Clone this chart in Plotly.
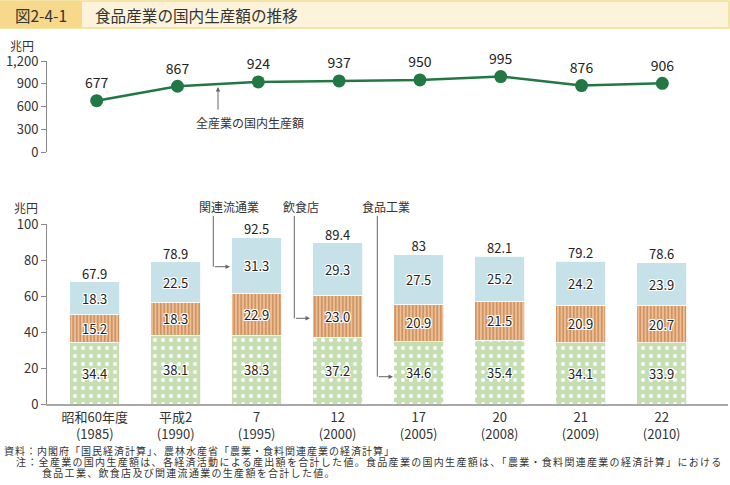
import plotly.graph_objects as go

# ---------------- data ----------------
categories = ["昭和60年度<br>(1985)", "平成2<br>(1990)", "7<br>(1995)", "12<br>(2000)",
              "17<br>(2005)", "20<br>(2008)", "21<br>(2009)", "22<br>(2010)"]
all_industry = [677, 867, 924, 937, 950, 995, 876, 906]
food_industry = [34.4, 38.1, 38.3, 37.2, 34.6, 35.4, 34.1, 33.9]      # 食品工業
restaurants = [15.2, 18.3, 22.9, 23.0, 20.9, 21.5, 20.9, 20.7]         # 飲食店
distribution = [18.3, 22.5, 31.3, 29.3, 27.5, 25.2, 24.2, 23.9]        # 関連流通業
totals = [67.9, 78.9, 92.5, 89.4, 83, 82.1, 79.2, 78.6]
top_ticks = [0, 300, 600, 900, 1200]
bottom_ticks = [0, 20, 40, 60, 80, 100]

W, H = 730, 485
FONT = "Noto Sans CJK JP"
X = lambda px: px / W
Y = lambda py: 1 - py / H

fig = go.Figure()

# top: line chart
fig.add_trace(go.Scatter(
    x=categories, y=all_industry, mode="lines+markers+text",
    text=[str(v) for v in all_industry], textposition="top center",
    textfont=dict(size=14, color="#222"),
    line=dict(color="#217844", width=2.5),
    marker=dict(size=13, color="#217844"),
    cliponaxis=False, xaxis="x", yaxis="y", showlegend=False, hoverinfo="skip"))

shadow = "1px 1px 0 #fff, -1px -1px 0 #fff, 1px -1px 0 #fff, -1px 1px 0 #fff, 0 1px 0 #fff, 0 -1px 0 #fff, 1px 0 0 #fff, -1px 0 0 #fff"

def bar(vals, color, pattern):
    return go.Bar(
        x=categories, y=vals, xaxis="x2", yaxis="y2",
        marker=dict(color=color, line=dict(color="white", width=0.8), pattern=pattern),
        text=[f"{v:.1f}" for v in vals], textposition="inside", insidetextanchor="middle",
        textangle=0, constraintext="none",
        textfont=dict(size=13, color="#222", shadow=shadow),
        showlegend=False, hoverinfo="skip")

fig.add_trace(bar(food_industry, "#C6DFB2",
                  dict(shape=".", fgcolor="#FFFFFF", bgcolor="#C6DFB2", size=8, solidity=0.2)))
fig.add_trace(bar(restaurants, "#E4AD7E",
                  dict(shape="|", fgcolor="#CD8E5C", bgcolor="#EDBF96", size=3.5, solidity=0.45)))
fig.add_trace(bar(distribution, "#C6E1E8", None))

fig.add_trace(go.Scatter(
    x=categories, y=totals, mode="text", text=[f"{v:g}" for v in totals],
    textposition="top center", textfont=dict(size=13, color="#222"),
    cliponaxis=False, xaxis="x2", yaxis="y2", showlegend=False, hoverinfo="skip"))

axis_font = dict(size=13, color="#333")
fig.update_layout(
    template="none",
    width=W, height=H, margin=dict(l=0, r=0, t=0, b=0, pad=0, autoexpand=False),
    paper_bgcolor="white", plot_bgcolor="white",
    font=dict(family=FONT, color="#333"),
    barmode="stack", bargap=0.38,
    xaxis=dict(domain=[X(47), X(728)], range=[-0.615, 7.813], showticklabels=False,
               showline=False, showgrid=False, zeroline=False, ticks="", anchor="y",
               automargin=False),
    yaxis=dict(domain=[Y(152), Y(61)], range=[0, 1200], tickvals=top_ticks, tickformat=",",
               showline=True, linecolor="#888", linewidth=1, ticks="outside", ticklen=5,
               tickcolor="#888", showgrid=False, zeroline=False, tickfont=axis_font, anchor="x",
               automargin=False),
    xaxis2=dict(domain=[X(47), X(728)], range=[-0.589, 7.819], showline=True, linecolor="#A8A8A8",
                linewidth=2, ticks="", showgrid=False, zeroline=False, tickfont=axis_font, anchor="y2",
                automargin=False),
    yaxis2=dict(domain=[Y(404), Y(224)], range=[0, 100], tickvals=bottom_ticks,
                showline=True, linecolor="#888", linewidth=1, ticks="outside", ticklen=5,
                tickcolor="#888", showgrid=False, zeroline=False, tickfont=axis_font, anchor="x2",
                automargin=False),
)


def note(text, px, py, size=12, xanchor="center"):
    return dict(text=text, x=X(px), y=Y(py), xref="paper", yref="paper", showarrow=False,
                xanchor=xanchor, yanchor="middle", font=dict(size=size, color="#333"))


def spaced(text, px):
    return f'<span style="letter-spacing:{px}px">{text}</span>'


shapes = [
    dict(type="rect", xref="paper", yref="paper", x0=X(0.5), x1=X(729), y0=Y(28), y1=Y(1),
         fillcolor="#FCF3DA", line=dict(color="#F3DD8C", width=1.5), layer="below"),
    dict(type="rect", xref="paper", yref="paper", x0=X(0.5), x1=X(82), y0=Y(28), y1=Y(1),
         fillcolor="#F6D98A", line=dict(width=0), layer="below"),
]
# callout lines for bottom chart
callouts = [
    ("関連流通業", 229, 213.3, 266.7, 230),
    ("飲食店", 301, 294.3, 318.3, 310),
    ("食品工業", 386, 377.3, 376.7, 393),
]
annotations = [
    note("図2-4-1", 41, 14.5, 15.5),
    note("食品産業の国内生産額の推移", 93, 14.5, 15.6, "left"),
    note("兆円", 22, 45),
    note("兆円", 26, 207),
    note("全産業の国内生産額", 250, 122),
    dict(text="", x=X(218), y=Y(87), xref="paper", yref="paper", showarrow=True,
         ax=0, ay=24, arrowhead=2, arrowsize=0.9, arrowwidth=1, arrowcolor="#666"),
    note(spaced("資料：内閣府「国民経済計算」、農林水産省「農業・食料関連産業の経済計算」", 1.0),
         2, 450.5, 10, "left"),
    note(spaced("注：全産業の国内生産額は、各経済活動による産出額を合計した値。食品産業の国内生産額は、「農業・食料関連産業の経済計算」における", 1.3),
         14, 461.5, 10, "left"),
    note(spaced("食品工業、飲食店及び関連流通業の生産額を合計した値。", 1.3), 40, 472.5, 10, "left"),
]
for label, lx, vx, hy, ex in callouts:
    annotations.append(note(label, lx, 206.7))
    shapes.append(dict(type="line", xref="paper", yref="paper", x0=X(vx), x1=X(vx),
                       y0=Y(216), y1=Y(hy), line=dict(color="#666", width=1)))
    annotations.append(dict(text="", x=X(ex), y=Y(hy), xref="paper", yref="paper", showarrow=True,
                            ax=vx - ex, ay=0, arrowhead=2, arrowsize=0.9, arrowwidth=1,
                            arrowcolor="#666"))

fig.update_layout(shapes=shapes, annotations=annotations)
fig.write_html("out.html", config={"displayModeBar": False},
               post_script="document.body.style.margin='0';document.body.style.overflow='hidden';")
